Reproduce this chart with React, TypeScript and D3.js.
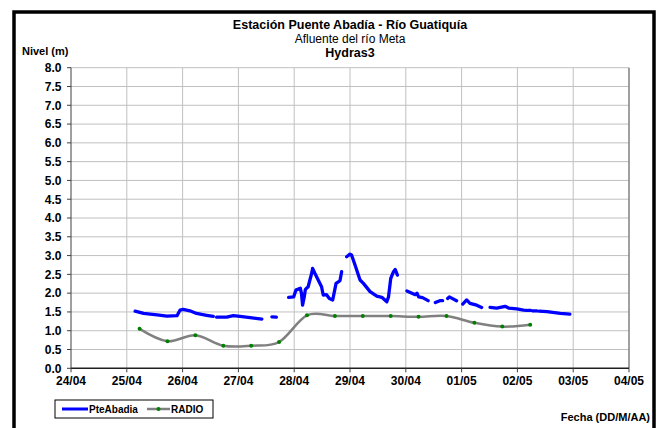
import React from "react";
import * as d3 from "d3";

// ---------- DATA ----------
const xTickLabels = ["24/04", "25/04", "26/04", "27/04", "28/04", "29/04", "30/04", "01/05", "02/05", "03/05", "04/05"];
const yTicks = [0, 0.5, 1, 1.5, 2, 2.5, 3, 3.5, 4, 4.5, 5, 5.5, 6, 6.5, 7, 7.5, 8];

// PteAbadia series (null = gap in record)
const pteTimes: (string | null)[] = [
  "25/04 03:36", "25/04 07:12", "25/04 13:00", "25/04 17:17", "25/04 21:36", "25/04 22:55",
  "26/04 00:14", "26/04 03:07", "26/04 06:00", "26/04 10:19", "26/04 13:12", null,
  "26/04 14:38", "26/04 18:58", "26/04 21:50", "27/04 00:43", "27/04 05:02", "27/04 10:05", null,
  "27/04 14:24", "27/04 16:19", null,
  "27/04 21:36", "27/04 23:46", "28/04 00:43", "28/04 02:38", "28/04 03:07", "28/04 03:36",
  "28/04 04:19", "28/04 04:48", "28/04 06:00", "28/04 07:41", "28/04 07:55", "28/04 08:53",
  "28/04 10:19", "28/04 11:46", "28/04 12:29", "28/04 13:55", "28/04 15:07", "28/04 16:34",
  "28/04 17:17", "28/04 18:00", "28/04 18:58", "28/04 19:41", "28/04 20:24", null,
  "28/04 22:34", "29/04 00:00", "29/04 00:43", "29/04 02:10", "29/04 04:19", "29/04 05:46",
  "29/04 08:38", "29/04 11:31", "29/04 13:41", "29/04 15:50", "29/04 16:34", "29/04 17:31",
  "29/04 18:43", "29/04 19:26", "29/04 20:24", null,
  "30/04 00:29", "30/04 02:38", "30/04 04:05", "30/04 04:48", "30/04 05:31", "30/04 07:12",
  "30/04 09:36", null,
  "30/04 12:43", "30/04 14:38", "30/04 15:50", null,
  "30/04 18:00", "30/04 18:43", "30/04 21:50", null,
  "01/05 00:29", "01/05 02:10", "01/05 03:36", "01/05 06:29", "01/05 08:38", null,
  "01/05 12:14", "01/05 15:07", "01/05 18:43", "01/05 20:24", "01/05 23:46", "02/05 02:38",
  "02/05 04:05", null,
  "02/05 04:34", "02/05 05:46", null,
  "02/05 06:29", "02/05 08:24", null,
  "02/05 09:22", "02/05 12:43", "02/05 18:29", "02/05 22:34",
];
const pteLevels: (number | null)[] = [
  1.52, 1.46, 1.42, 1.39, 1.40, 1.55,
  1.57, 1.53, 1.46, 1.41, 1.38, null,
  1.36, 1.36, 1.40, 1.38, 1.35, 1.31, null,
  1.37, 1.36, null,
  1.89, 1.90, 2.08, 2.13, 2.00, 1.68,
  1.90, 2.10, 2.17, 2.57, 2.66, 2.53,
  2.35, 2.17, 1.95, 1.96, 1.86, 1.82,
  2.04, 2.26, 2.30, 2.33, 2.57, null,
  2.97, 3.04, 3.01, 2.75, 2.35, 2.26,
  2.04, 1.92, 1.89, 1.77, 1.90, 2.39,
  2.57, 2.63, 2.48, null,
  2.06, 2.00, 1.96, 2.00, 1.90, 1.88,
  1.80, null,
  1.75, 1.80, 1.80, null,
  1.86, 1.90, 1.80, null,
  1.71, 1.82, 1.73, 1.68, 1.62, null,
  1.62, 1.60, 1.65, 1.60, 1.58, 1.55,
  1.54, null,
  1.54, 1.54, null,
  1.53, 1.53, null,
  1.52, 1.51, 1.46, 1.44,
];

// RADIO series
const radioTimes = [
  "25/04 05:30", "25/04 17:30", "26/04 05:30", "26/04 17:30", "27/04 05:30", "27/04 17:30",
  "28/04 05:30", "28/04 17:30", "29/04 05:30", "29/04 17:30", "30/04 05:30", "30/04 17:30",
  "01/05 05:30", "01/05 17:30", "02/05 05:30",
];
const radioLevels = [1.05, 0.72, 0.88, 0.60, 0.60, 0.70, 1.41, 1.39, 1.39, 1.39, 1.37, 1.39, 1.21, 1.11, 1.16];

// ---------- CHART ----------
const W = 658;
const H = 428;
const FONT = "'Liberation Sans', Arial, sans-serif";
const parse = d3.timeParse("%d/%m %H:%M");

export default function App() {
  const left = 71, right = 629, top = 67.7, bottom = 368.3;
  const x = d3.scaleTime().domain([parse("24/04 00:00")!, parse("04/05 00:00")!]).range([left, right]);
  const y = d3.scaleLinear().domain([0, 8]).range([bottom, top]);
  const xTicks = xTickLabels.map((l) => parse(l + " 00:00")!);

  const pte = pteTimes.map((t, i) => ({ t: t ? parse(t) : null, v: pteLevels[i] }));
  const pteLine = d3
    .line<{ t: Date | null; v: number | null }>()
    .defined((d) => d.t != null && d.v != null)
    .x((d) => x(d.t as Date))
    .y((d) => y(d.v as number));

  const radio = radioTimes.map((t, i) => ({ t: parse(t)!, v: radioLevels[i] }));
  const radioLine = d3
    .line<{ t: Date; v: number }>()
    .curve(d3.curveCatmullRom.alpha(0))
    .x((d) => x(d.t))
    .y((d) => y(d.v));

  return (
    <svg width={W} height={H} style={{ position: "absolute", left: 0, top: 0, background: "#fff" }} fontFamily={FONT}>
      <rect x={0} y={0} width={W} height={H} fill="#fff" />
      <rect x={14} y={12} width={640} height={430} fill="none" stroke="#000" strokeWidth={3.5} />

      {/* Titles */}
      <text x={350} y={28.5} textAnchor="middle" fontWeight="bold" fontSize={12.5}>Estación Puente Abadía  - Río Guatiquía</text>
      <text x={350} y={42.5} textAnchor="middle" fontSize={12}>Afluente del río Meta</text>
      <text x={350} y={56.5} textAnchor="middle" fontWeight="bold" fontSize={12.5}>Hydras3</text>
      <text x={22} y={55} fontWeight="bold" fontSize={11}>Nivel (m)</text>

      {/* Grid */}
      {yTicks.filter((v) => v > 0).map((v) => (
        <line key={"gy" + v} x1={left} x2={right} y1={y(v)} y2={y(v)} stroke="#c0c0c0" strokeWidth={1} />
      ))}
      {xTicks.slice(1, -1).map((t, i) => (
        <line key={"gx" + i} x1={x(t)} x2={x(t)} y1={top} y2={bottom} stroke="#c0c0c0" strokeWidth={1} />
      ))}
      <line x1={right} x2={right} y1={top} y2={bottom} stroke="#808080" strokeWidth={1.5} />

      {/* Axes */}
      <line x1={left} x2={left} y1={top} y2={bottom} stroke="#404040" strokeWidth={1} />
      <line x1={left} x2={right} y1={bottom} y2={bottom} stroke="#202020" strokeWidth={1.5} />
      {yTicks.map((v) => (
        <g key={"ty" + v}>
          <line x1={left - 4} x2={left} y1={y(v)} y2={y(v)} stroke="#404040" />
          <text x={61.5} y={y(v)} dy="0.36em" textAnchor="end" fontWeight="bold" fontSize={12}>{v.toFixed(1)}</text>
        </g>
      ))}
      {xTicks.map((t, i) => (
        <g key={"tx" + i}>
          <line x1={x(t)} x2={x(t)} y1={bottom} y2={bottom + 4} stroke="#404040" />
          <text x={x(t)} y={384.5} textAnchor="middle" fontWeight="bold" fontSize={12}>{xTickLabels[i]}</text>
        </g>
      ))}

      {/* Series */}
      <path d={radioLine(radio) || ""} fill="none" stroke="#808080" strokeWidth={2.5} />
      {radio.map((d, i) => (
        <circle key={"r" + i} cx={x(d.t)} cy={y(d.v)} r={2} fill="#008000" />
      ))}
      <path d={pteLine(pte) || ""} fill="none" stroke="#0000ff" strokeWidth={3.3} strokeLinejoin="round" strokeLinecap="round" />

      {/* Legend */}
      <rect x={55} y={400} width={158} height={18} fill="#fff" stroke="#000" strokeWidth={1} />
      <line x1={62} x2={88} y1={409} y2={409} stroke="#0000ff" strokeWidth={3} />
      <text x={89} y={412.5} fontWeight="bold" fontSize={10}>PteAbadia</text>
      <line x1={147} x2={170} y1={409} y2={409} stroke="#808080" strokeWidth={2.5} />
      <circle cx={158.5} cy={409} r={2} fill="#008000" />
      <text x={171} y={412.5} fontWeight="bold" fontSize={10}>RADIO</text>
      <text x={650} y={420.5} textAnchor="end" fontWeight="bold" fontSize={11}>Fecha (DD/M/AA)</text>
    </svg>
  );
}
